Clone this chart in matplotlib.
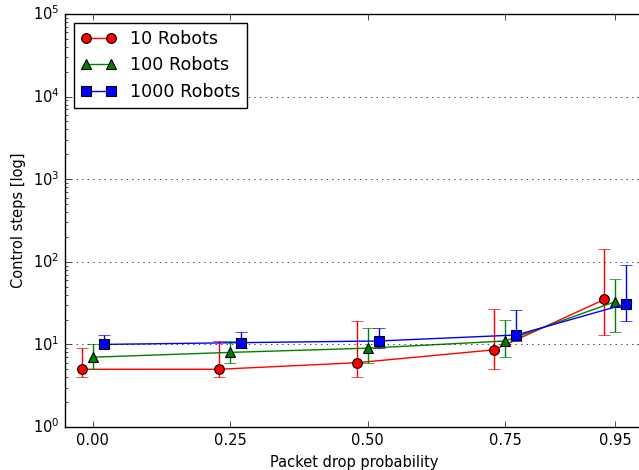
import matplotlib
matplotlib.use('Agg')
import matplotlib.pyplot as plt
from matplotlib.ticker import FixedLocator, FixedFormatter

plt.style.use('classic')

# packet drop probabilities tested
drop = [0.00, 0.25, 0.50, 0.75, 0.95]
drop_labels = ['0.00', '0.25', '0.50', '0.75', '0.95']

# mean control steps and min/max for each swarm size
steps_10 = [5, 5, 6, 8.6, 35]
low_10 = [4, 4, 4, 5, 13]
high_10 = [9, 11, 19, 27, 143]

steps_100 = [7, 8, 9, 11, 33]
low_100 = [5, 6, 6, 7, 14]
high_100 = [10, 11, 16, 20, 62]

steps_1000 = [10, 10.5, 11, 13, 31]
low_1000 = [9, 9, 9, 11, 19]
high_1000 = [13, 14, 16, 26, 92]

series = [
    ('10 Robots', steps_10, low_10, high_10, 'r', 'o', -0.02),
    ('100 Robots', steps_100, low_100, high_100, 'g', '^', 0.0),
    ('1000 Robots', steps_1000, low_1000, high_1000, 'b', 's', 0.02),
]

fig = plt.figure(figsize=(6.39, 4.7), dpi=100)
ax = fig.add_axes([65 / 639, 43 / 470, 578 / 639, 413 / 470])

for label, y, lo, hi, col, mk, shift in series:
    x = [d + shift for d in drop]
    yerr = [[v - l for v, l in zip(y, lo)], [h - v for v, h in zip(y, hi)]]
    ax.errorbar(x, y, yerr=yerr, fmt='none', ecolor=col, capsize=4,
                elinewidth=1)
    ax.plot(x, y, color=col, marker=mk, markersize=7, markeredgecolor='k',
            markeredgewidth=0.8, linewidth=1, label=label)

ax.set_yscale('log')
ax.set_ylim(1, 1e5)
ax.set_xlim(-0.05, 1.0)
ax.xaxis.set_major_locator(FixedLocator(drop))
ax.xaxis.set_major_formatter(FixedFormatter(drop_labels))
ax.yaxis.grid(True, which='major', linestyle=':', color='k')
ax.xaxis.grid(False)

ax.tick_params(labelsize=10.5)
ax.set_xlabel('Packet drop probability', fontsize=10.5)
ax.set_ylabel('Control steps [log]', fontsize=10.5)

ax.legend(loc='upper left', numpoints=2, fontsize=12.6)

fig.savefig('out.png', dpi=100)
